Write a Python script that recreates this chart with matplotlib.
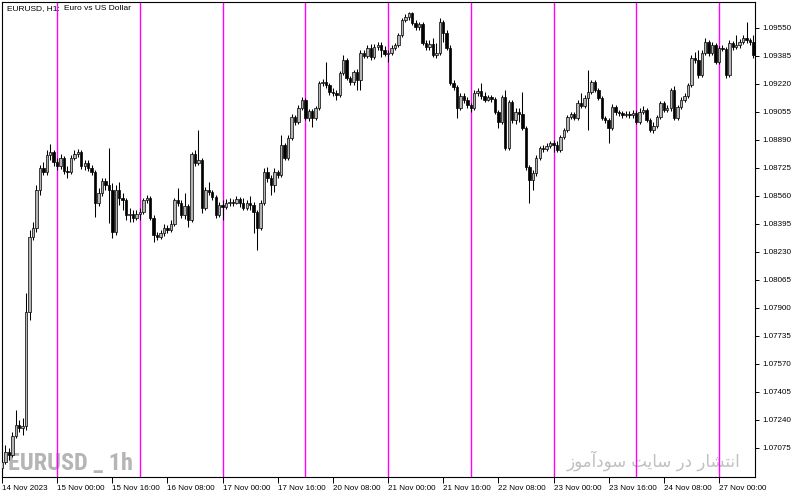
import numpy as np
import pandas as pd
import matplotlib
matplotlib.use("Agg")
import matplotlib.pyplot as plt

plt.rcParams['font.family'] = ['Liberation Sans', 'DejaVu Sans']

# EURUSD H1 candles, one list per trading day: (open, high, low, close)
nov14 = [
    (1.06957, 1.07016, 1.06922, 1.06993), (1.06993, 1.07093, 1.06981, 1.07052),
    (1.07052, 1.07075, 1.07004, 1.07034), (1.07034, 1.07169, 1.07022, 1.07146),
    (1.07146, 1.07299, 1.07134, 1.07211), (1.07211, 1.07241, 1.07169, 1.07193),
    (1.07193, 1.07252, 1.07152, 1.07205), (1.07205, 1.07989, 1.07181, 1.07877),
    (1.07877, 1.08360, 1.07830, 1.08318), (1.08318, 1.08407, 1.08301, 1.08371),
    (1.08371, 1.08625, 1.08348, 1.08595), (1.08595, 1.08743, 1.08566, 1.08725),
    (1.08725, 1.08760, 1.08684, 1.08701), (1.08701, 1.08831, 1.08684, 1.08802),
    (1.08802, 1.08866, 1.08772, 1.08819), (1.08819, 1.08831, 1.08737, 1.08760),
]
nov15 = [
    (1.08760, 1.08784, 1.08713, 1.08737), (1.08737, 1.08807, 1.08719, 1.08784),
    (1.08784, 1.08796, 1.08690, 1.08707), (1.08707, 1.08737, 1.08666, 1.08701),
    (1.08701, 1.08802, 1.08690, 1.08784), (1.08784, 1.08831, 1.08772, 1.08807),
    (1.08807, 1.08837, 1.08790, 1.08819), (1.08819, 1.08831, 1.08719, 1.08737),
    (1.08737, 1.08772, 1.08713, 1.08754), (1.08754, 1.08772, 1.08707, 1.08725),
    (1.08725, 1.08743, 1.08684, 1.08701), (1.08701, 1.08713, 1.08436, 1.08519),
    (1.08519, 1.08607, 1.08501, 1.08578), (1.08578, 1.08666, 1.08560, 1.08648),
    (1.08648, 1.08666, 1.08595, 1.08625), (1.08625, 1.08843, 1.08401, 1.08595),
    (1.08595, 1.08637, 1.08312, 1.08348), (1.08348, 1.08625, 1.08330, 1.08595),
    (1.08595, 1.08642, 1.08507, 1.08548), (1.08548, 1.08578, 1.08477, 1.08536),
    (1.08536, 1.08548, 1.08418, 1.08448), (1.08448, 1.08489, 1.08407, 1.08454),
    (1.08454, 1.08477, 1.08407, 1.08430), (1.08430, 1.08477, 1.08418, 1.08454),
]
nov16 = [
    (1.08454, 1.08489, 1.08418, 1.08466), (1.08466, 1.08548, 1.08454, 1.08536),
    (1.08536, 1.08566, 1.08519, 1.08548), (1.08548, 1.08560, 1.08418, 1.08430),
    (1.08430, 1.08448, 1.08289, 1.08330), (1.08330, 1.08348, 1.08301, 1.08318),
    (1.08318, 1.08360, 1.08307, 1.08342), (1.08342, 1.08395, 1.08324, 1.08371),
    (1.08371, 1.08389, 1.08342, 1.08360), (1.08360, 1.08418, 1.08348, 1.08395),
    (1.08395, 1.08548, 1.08383, 1.08536), (1.08536, 1.08607, 1.08501, 1.08519),
    (1.08519, 1.08536, 1.08430, 1.08448), (1.08448, 1.08578, 1.08424, 1.08501),
    (1.08501, 1.08513, 1.08377, 1.08418), (1.08418, 1.08819, 1.08407, 1.08807),
    (1.08807, 1.08831, 1.08737, 1.08754), (1.08754, 1.08949, 1.08743, 1.08772),
    (1.08772, 1.08784, 1.08460, 1.08489), (1.08489, 1.08613, 1.08477, 1.08595),
    (1.08595, 1.08642, 1.08566, 1.08584), (1.08584, 1.08595, 1.08536, 1.08554),
    (1.08554, 1.08566, 1.08430, 1.08448), (1.08448, 1.08525, 1.08436, 1.08507),
]
nov17 = [
    (1.08507, 1.08536, 1.08418, 1.08495), (1.08495, 1.08542, 1.08483, 1.08519),
    (1.08519, 1.08548, 1.08501, 1.08525), (1.08525, 1.08542, 1.08501, 1.08519),
    (1.08519, 1.08560, 1.08513, 1.08542), (1.08542, 1.08554, 1.08495, 1.08519),
    (1.08519, 1.08548, 1.08477, 1.08489), (1.08489, 1.08536, 1.08477, 1.08519),
    (1.08519, 1.08560, 1.08477, 1.08507), (1.08507, 1.08525, 1.08342, 1.08466),
    (1.08466, 1.08477, 1.08242, 1.08371), (1.08371, 1.08536, 1.08360, 1.08519),
    (1.08519, 1.08725, 1.08507, 1.08701), (1.08701, 1.08731, 1.08642, 1.08666),
    (1.08666, 1.08684, 1.08566, 1.08625), (1.08625, 1.08725, 1.08584, 1.08701),
    (1.08701, 1.08713, 1.08666, 1.08684), (1.08684, 1.08920, 1.08672, 1.08861),
    (1.08861, 1.08872, 1.08772, 1.08784), (1.08784, 1.08920, 1.08772, 1.08902),
    (1.08902, 1.09043, 1.08890, 1.09026), (1.09026, 1.09037, 1.08978, 1.08996),
    (1.08996, 1.09096, 1.08984, 1.09079), (1.09079, 1.09143, 1.09067, 1.09126),
]
nov20 = [
    (1.09126, 1.09138, 1.09008, 1.09020), (1.09020, 1.09073, 1.09002, 1.09061),
    (1.09061, 1.09073, 1.08967, 1.09020), (1.09020, 1.09090, 1.09008, 1.09079),
    (1.09079, 1.09238, 1.09067, 1.09226), (1.09226, 1.09250, 1.09208, 1.09232),
    (1.09232, 1.09350, 1.09196, 1.09214), (1.09214, 1.09226, 1.09155, 1.09173),
    (1.09173, 1.09196, 1.09149, 1.09167), (1.09167, 1.09185, 1.09126, 1.09155),
    (1.09155, 1.09297, 1.09143, 1.09285), (1.09285, 1.09391, 1.09273, 1.09361),
    (1.09361, 1.09373, 1.09244, 1.09255), (1.09255, 1.09267, 1.09214, 1.09232),
    (1.09232, 1.09302, 1.09214, 1.09291), (1.09291, 1.09309, 1.09185, 1.09244),
    (1.09244, 1.09420, 1.09185, 1.09403), (1.09403, 1.09420, 1.09373, 1.09385),
    (1.09385, 1.09450, 1.09373, 1.09432), (1.09432, 1.09456, 1.09361, 1.09379),
    (1.09379, 1.09456, 1.09367, 1.09438), (1.09438, 1.09468, 1.09420, 1.09450),
    (1.09450, 1.09468, 1.09379, 1.09420), (1.09420, 1.09444, 1.09385, 1.09397),
]
nov21 = [
    (1.09397, 1.09420, 1.09350, 1.09403), (1.09403, 1.09450, 1.09391, 1.09432),
    (1.09432, 1.09462, 1.09420, 1.09450), (1.09450, 1.09521, 1.09438, 1.09509),
    (1.09509, 1.09609, 1.09497, 1.09597), (1.09597, 1.09633, 1.09585, 1.09615),
    (1.09615, 1.09644, 1.09597, 1.09638), (1.09638, 1.09644, 1.09568, 1.09579),
    (1.09579, 1.09597, 1.09538, 1.09556), (1.09556, 1.09585, 1.09538, 1.09574),
    (1.09574, 1.09585, 1.09450, 1.09462), (1.09462, 1.09479, 1.09420, 1.09438),
    (1.09438, 1.09479, 1.09420, 1.09456), (1.09456, 1.09491, 1.09379, 1.09391),
    (1.09391, 1.09462, 1.09373, 1.09403), (1.09403, 1.09609, 1.09391, 1.09585),
    (1.09585, 1.09597, 1.09468, 1.09521), (1.09521, 1.09538, 1.09420, 1.09432),
    (1.09432, 1.09450, 1.09214, 1.09226), (1.09226, 1.09244, 1.09185, 1.09202),
    (1.09202, 1.09214, 1.09020, 1.09079), (1.09079, 1.09167, 1.09067, 1.09149),
    (1.09149, 1.09167, 1.09108, 1.09126), (1.09126, 1.09143, 1.09079, 1.09096),
]
nov22 = [
    (1.09096, 1.09108, 1.09055, 1.09079), (1.09079, 1.09185, 1.09067, 1.09167),
    (1.09167, 1.09196, 1.09149, 1.09179), (1.09179, 1.09226, 1.09132, 1.09149),
    (1.09149, 1.09173, 1.09114, 1.09126), (1.09126, 1.09155, 1.09120, 1.09143),
    (1.09143, 1.09155, 1.09114, 1.09132), (1.09132, 1.09143, 1.09043, 1.09055),
    (1.09055, 1.09067, 1.08961, 1.08996), (1.08996, 1.09155, 1.08984, 1.09143),
    (1.09143, 1.09185, 1.08831, 1.08843), (1.08843, 1.09126, 1.08831, 1.09114),
    (1.09114, 1.09126, 1.08990, 1.09008), (1.09008, 1.09079, 1.08984, 1.09055),
    (1.09055, 1.09079, 1.08996, 1.09043), (1.09043, 1.09173, 1.08949, 1.08961),
    (1.08961, 1.08972, 1.08713, 1.08731), (1.08731, 1.08743, 1.08519, 1.08654),
    (1.08654, 1.08713, 1.08595, 1.08696), (1.08696, 1.08802, 1.08678, 1.08784),
    (1.08784, 1.08855, 1.08772, 1.08843), (1.08843, 1.08861, 1.08819, 1.08837),
    (1.08837, 1.08872, 1.08825, 1.08855), (1.08855, 1.08884, 1.08843, 1.08872),
]
nov23 = [
    (1.08872, 1.08890, 1.08819, 1.08861), (1.08861, 1.08884, 1.08819, 1.08831),
    (1.08831, 1.08920, 1.08819, 1.08908), (1.08908, 1.08961, 1.08896, 1.08949),
    (1.08949, 1.09037, 1.08937, 1.09026), (1.09026, 1.09055, 1.09014, 1.09043),
    (1.09043, 1.09055, 1.09008, 1.09020), (1.09020, 1.09126, 1.09008, 1.09108),
    (1.09108, 1.09167, 1.09079, 1.09090), (1.09090, 1.09155, 1.09079, 1.09138),
    (1.09138, 1.09302, 1.08949, 1.09173), (1.09173, 1.09244, 1.09161, 1.09232),
    (1.09232, 1.09244, 1.09173, 1.09185), (1.09185, 1.09196, 1.09126, 1.09138),
    (1.09138, 1.09149, 1.09008, 1.09020), (1.09020, 1.09031, 1.08990, 1.09008),
    (1.09008, 1.09020, 1.08872, 1.08961), (1.08961, 1.09102, 1.08949, 1.09084),
    (1.09084, 1.09096, 1.09037, 1.09055), (1.09055, 1.09067, 1.09031, 1.09049),
    (1.09049, 1.09061, 1.09020, 1.09037), (1.09037, 1.09061, 1.09026, 1.09043),
    (1.09043, 1.09061, 1.09020, 1.09037), (1.09037, 1.09067, 1.09020, 1.09049),
]
nov24 = [
    (1.09049, 1.09067, 1.08984, 1.08996), (1.08996, 1.09079, 1.08984, 1.09055),
    (1.09055, 1.09090, 1.09043, 1.09067), (1.09067, 1.09079, 1.08996, 1.09008),
    (1.09008, 1.09020, 1.08937, 1.08949), (1.08949, 1.08996, 1.08931, 1.08972),
    (1.08972, 1.09037, 1.08961, 1.09026), (1.09026, 1.09120, 1.09014, 1.09108),
    (1.09108, 1.09120, 1.09055, 1.09067), (1.09067, 1.09096, 1.09055, 1.09079),
    (1.09079, 1.09196, 1.09061, 1.09185), (1.09185, 1.09208, 1.09008, 1.09020),
    (1.09020, 1.09096, 1.09008, 1.09084), (1.09084, 1.09143, 1.09073, 1.09126),
    (1.09126, 1.09167, 1.09114, 1.09149), (1.09149, 1.09226, 1.09138, 1.09214),
    (1.09214, 1.09391, 1.09202, 1.09373), (1.09373, 1.09409, 1.09344, 1.09361),
    (1.09361, 1.09420, 1.09255, 1.09273), (1.09273, 1.09420, 1.09261, 1.09403),
    (1.09403, 1.09491, 1.09391, 1.09468), (1.09468, 1.09479, 1.09385, 1.09403),
    (1.09403, 1.09468, 1.09391, 1.09450), (1.09450, 1.09462, 1.09338, 1.09350),
]
nov27 = [
    (1.09350, 1.09444, 1.09338, 1.09432), (1.09432, 1.09450, 1.09415, 1.09426),
    (1.09426, 1.09438, 1.09255, 1.09273), (1.09273, 1.09479, 1.09261, 1.09462),
    (1.09462, 1.09473, 1.09420, 1.09438), (1.09438, 1.09509, 1.09426, 1.09450),
    (1.09450, 1.09485, 1.09432, 1.09468), (1.09468, 1.09509, 1.09456, 1.09491),
    (1.09491, 1.09585, 1.09462, 1.09479), (1.09479, 1.09491, 1.09450, 1.09468),
    (1.09468, 1.09509, 1.09373, 1.09391),
]

days = ["2023-11-14", "2023-11-15", "2023-11-16", "2023-11-17", "2023-11-20",
        "2023-11-21", "2023-11-22", "2023-11-23", "2023-11-24", "2023-11-27"]
day_bars = [nov14, nov15, nov16, nov17, nov20, nov21, nov22, nov23, nov24, nov27]

price_ticks = [1.07075, 1.07240, 1.07405, 1.07570, 1.07735, 1.07900, 1.08065, 1.08230,
               1.08395, 1.08560, 1.08725, 1.08890, 1.09055, 1.09220, 1.09385, 1.09550]

title_symbol = "EURUSD, H1:"
title_desc = "Euro vs US Dollar"
watermark = "EURUSD _ 1h"
site_text = "انتشار در سایت سودآموز"


# matplotlib 3.10 does not shape Arabic script, so pick the presentation forms by hand
FORMS = {  # isolated, final, initial, medial
    'ا': (0xFE8D, 0xFE8E), 'آ': (0xFE81, 0xFE82), 'د': (0xFEA9, 0xFEAA),
    'ر': (0xFEAD, 0xFEAE), 'ز': (0xFEAF, 0xFEB0), 'و': (0xFEED, 0xFEEE),
    'ن': (0xFEE5, 0xFEE6, 0xFEE7, 0xFEE8), 'ت': (0xFE95, 0xFE96, 0xFE97, 0xFE98),
    'ش': (0xFEB5, 0xFEB6, 0xFEB7, 0xFEB8), 'س': (0xFEB1, 0xFEB2, 0xFEB3, 0xFEB4),
    'م': (0xFEE1, 0xFEE2, 0xFEE3, 0xFEE4), 'ی': (0x06CC, 0xFBFD, 0xFEF3, 0xFEF4),
}


def shape_rtl(text):
    out = []
    for word in text.split(' '):
        chars = []
        for k, ch in enumerate(word):
            f = FORMS[ch]
            prev_joins = k > 0 and len(FORMS[word[k - 1]]) == 4
            next_joins = k < len(word) - 1 and len(f) == 4
            if prev_joins and next_joins:
                idx = 3
            elif prev_joins:
                idx = 1
            elif next_joins:
                idx = 2
            else:
                idx = 0
            chars.append(chr(f[idx]))
        out.append(''.join(chars))
    return ' '.join(out)[::-1]


ohlc = np.array([bar for day in day_bars for bar in day])
o, h, l, c = ohlc.T
n = len(ohlc)
x = np.arange(n)

times = []
for i, (d, bars) in enumerate(zip(days, day_bars)):
    start = 24 - len(bars) if i == 0 else 0
    times += list(pd.date_range(f"{d} {start:02d}:00", periods=len(bars), freq="h"))

day_starts = np.cumsum([len(b) for b in day_bars])[:-1]

fig = plt.figure(figsize=(8, 4.95), dpi=100)
ax = fig.add_axes([2 / 800, 18 / 495, 753 / 800, 475 / 495])

# period separators
for s in day_starts:
    ax.axvline(s, color='#ff00ff', lw=1.0, zorder=1)

# candles
ax.vlines(x, l, h, color='black', lw=0.75, zorder=2)
up = c >= o
ax.bar(x[up], c[up] - o[up], bottom=o[up], width=0.7, facecolor='#b4b4b4',
       edgecolor='black', linewidth=0.5, zorder=3)
ax.bar(x[~up], o[~up] - c[~up], bottom=c[~up], width=0.7, facecolor='black',
       edgecolor='black', linewidth=0.5, zorder=3)

ax.set_xlim(0.06, n - 0.55)
ax.set_ylim(1.06904, 1.09703)

ax.yaxis.tick_right()
ax.set_yticks(price_ticks, [f"{v:.5f}" for v in price_ticks])
tick_idx = list(range(0, n, 16))
tick_lbl = [times[i].strftime("%d %b %Y") if i == 0 else times[i].strftime("%d %b %H:%M")
            for i in tick_idx]
ax.set_xticks(tick_idx, tick_lbl)
for t in ax.get_xticklabels():
    t.set_horizontalalignment('left')
ax.tick_params(axis='y', direction='out', length=3, width=0.7, pad=2, labelsize=5.8)
ax.tick_params(axis='x', direction='out', length=4, width=0.7, pad=2, labelsize=5.8)
for sp in ax.spines.values():
    sp.set_linewidth(0.8)
    sp.set_color('black')

# texts drawn inside the chart window
ax.text(5 / 753, 1 - 7 / 475, title_symbol, transform=ax.transAxes, fontsize=6.0,
        va='center', ha='left', zorder=4)
ax.text(62 / 753, 1 - 7 / 475, title_desc, transform=ax.transAxes, fontsize=6.0,
        va='center', ha='left', zorder=4)
ax.text(6 / 753, 7 / 475, watermark, transform=ax.transAxes, fontsize=17.5,
        fontweight='bold', fontstretch='condensed', color='#b5b5b5', va='baseline',
        ha='left', zorder=0.5,
        family=['Roboto Condensed', 'Liberation Sans Narrow', 'Noto Sans', 'DejaVu Sans'])
ax.text(738 / 753, 10 / 475, shape_rtl(site_text), transform=ax.transAxes, fontsize=12,
        color='#c0c0c0', va='baseline', ha='right', zorder=0.5, family=['DejaVu Sans'])

fig.savefig("out.png", dpi=100)
